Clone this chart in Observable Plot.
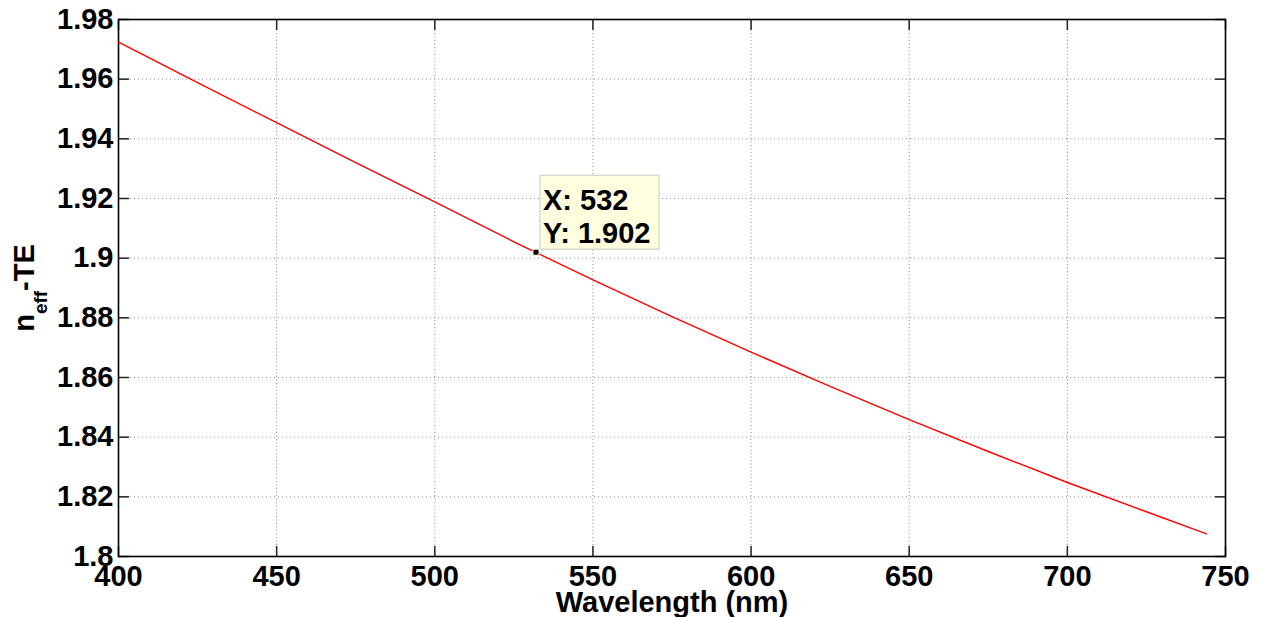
<!DOCTYPE html>
<html>
<head>
<meta charset="utf-8">
<script src="https://cdn.jsdelivr.net/npm/d3@7"></script>
<script src="https://cdn.jsdelivr.net/npm/@observablehq/plot@0.6"></script>
<style>
  html, body { margin: 0; padding: 0; background: #fff; }
  #chart { width: 1261px; height: 617px; }
</style>
</head>
<body>
<div id="chart"></div>
<script>
// Data
const wavelength = [400, 425, 450, 475, 500, 525, 550, 575, 600, 625, 650, 675, 700, 725, 744];
const neff = [1.9724, 1.9588, 1.9454, 1.9320, 1.9189, 1.9055, 1.8927, 1.8804, 1.8685, 1.8570, 1.8459, 1.8352, 1.8248, 1.8150, 1.8076];
const xTicks = [400, 450, 500, 550, 600, 650, 700, 750];
const yTicks = [1.8, 1.82, 1.84, 1.86, 1.88, 1.9, 1.92, 1.94, 1.96, 1.98];
const tipX = [532];
const tipY = [1.902];
const tipText = ["X: 532\nY: 1.902"];

const data = wavelength.map((w, i) => ({w, n: neff[i]}));
const tip = tipX.map((x, i) => ({x, y: tipY[i], t: tipText[i]}));

const FONT = "'Liberation Sans', Arial, Helvetica, sans-serif";
const FS = 29;

const tipBox = {
  draw(context) { context.rect(4, -77, 119, 74); }
};

const chart = Plot.plot({
  width: 1261,
  height: 617,
  marginLeft: 118,
  marginRight: 36,
  marginTop: 19,
  marginBottom: 61,
  style: {fontFamily: FONT, fontWeight: "bold", fontSize: FS + "px", background: "white", color: "black"},
  x: {domain: [400, 750], label: null},
  y: {domain: [1.8, 1.98], label: null},
  marks: [
    Plot.gridX(xTicks, {stroke: "#8a8a8a", strokeOpacity: 1, strokeDasharray: "1,2.5"}),
    Plot.gridY(yTicks, {stroke: "#8a8a8a", strokeOpacity: 1, strokeDasharray: "1,3"}),
    // inward ticks on all four sides
    Plot.axisX(xTicks, {anchor: "bottom", tickSize: -10, tickFormat: () => "", label: null, stroke: "#222", strokeWidth: 1.5}),
    Plot.axisX(xTicks, {anchor: "top", tickSize: -10, tickFormat: () => "", label: null, stroke: "#222", strokeWidth: 1.5}),
    Plot.axisY(yTicks, {anchor: "left", tickSize: -11, tickFormat: () => "", label: null, stroke: "#222", strokeWidth: 1.5}),
    Plot.axisY(yTicks, {anchor: "right", tickSize: -11, tickFormat: () => "", label: null, stroke: "#222", strokeWidth: 1.5}),
    // tick labels
    Plot.axisX(xTicks, {anchor: "bottom", tickSize: 0, tickPadding: 9, fontSize: FS, fill: "black", label: null, tickFormat: d => String(d)}),
    Plot.axisY(yTicks, {anchor: "left", tickSize: 0, tickPadding: 5, fontSize: FS, fill: "black", label: null, tickFormat: d => String(d)}),
    Plot.frame({stroke: "black", strokeWidth: 1.6}),
    Plot.line(data, {x: "w", y: "n", stroke: "red", strokeWidth: 1.4}),
    // data tip box
    Plot.dot(tip, {x: "x", y: "y", symbol: tipBox, r: 1, fill: "#ffffe0", stroke: "#c8c8c8", strokeWidth: 1}),
    Plot.text(tip, {x: "x", y: "y", text: "t", textAnchor: "start", lineAnchor: "top", dx: 7, dy: -65, lineHeight: 1.12, fontSize: FS, fill: "black"}),
    Plot.dot(tip, {x: "x", y: "y", symbol: "square", r: 3.4, fill: "black", stroke: "#ffffe0", strokeWidth: 1}),
    // x axis label
    Plot.text(["Wavelength (nm)"], {frameAnchor: "bottom", text: d => d, lineAnchor: "bottom", dy: 55, fontSize: FS, fill: "black"})
  ]
});

document.getElementById("chart").appendChild(chart);

// y axis label with subscript
const svg = d3.select(chart.tagName.toLowerCase() === "svg" ? chart : chart.querySelector("svg"));
const lab = svg.append("text")
  .attr("transform", "translate(34,288) rotate(-90)")
  .attr("text-anchor", "middle")
  .attr("font-family", FONT)
  .attr("font-weight", "bold")
  .attr("font-size", FS)
  .attr("fill", "black");
lab.append("tspan").text("n");
lab.append("tspan").attr("font-size", 19).attr("dy", 13).text("eff");
lab.append("tspan").attr("dy", -13).text("-TE");
</script>
</body>
</html>
